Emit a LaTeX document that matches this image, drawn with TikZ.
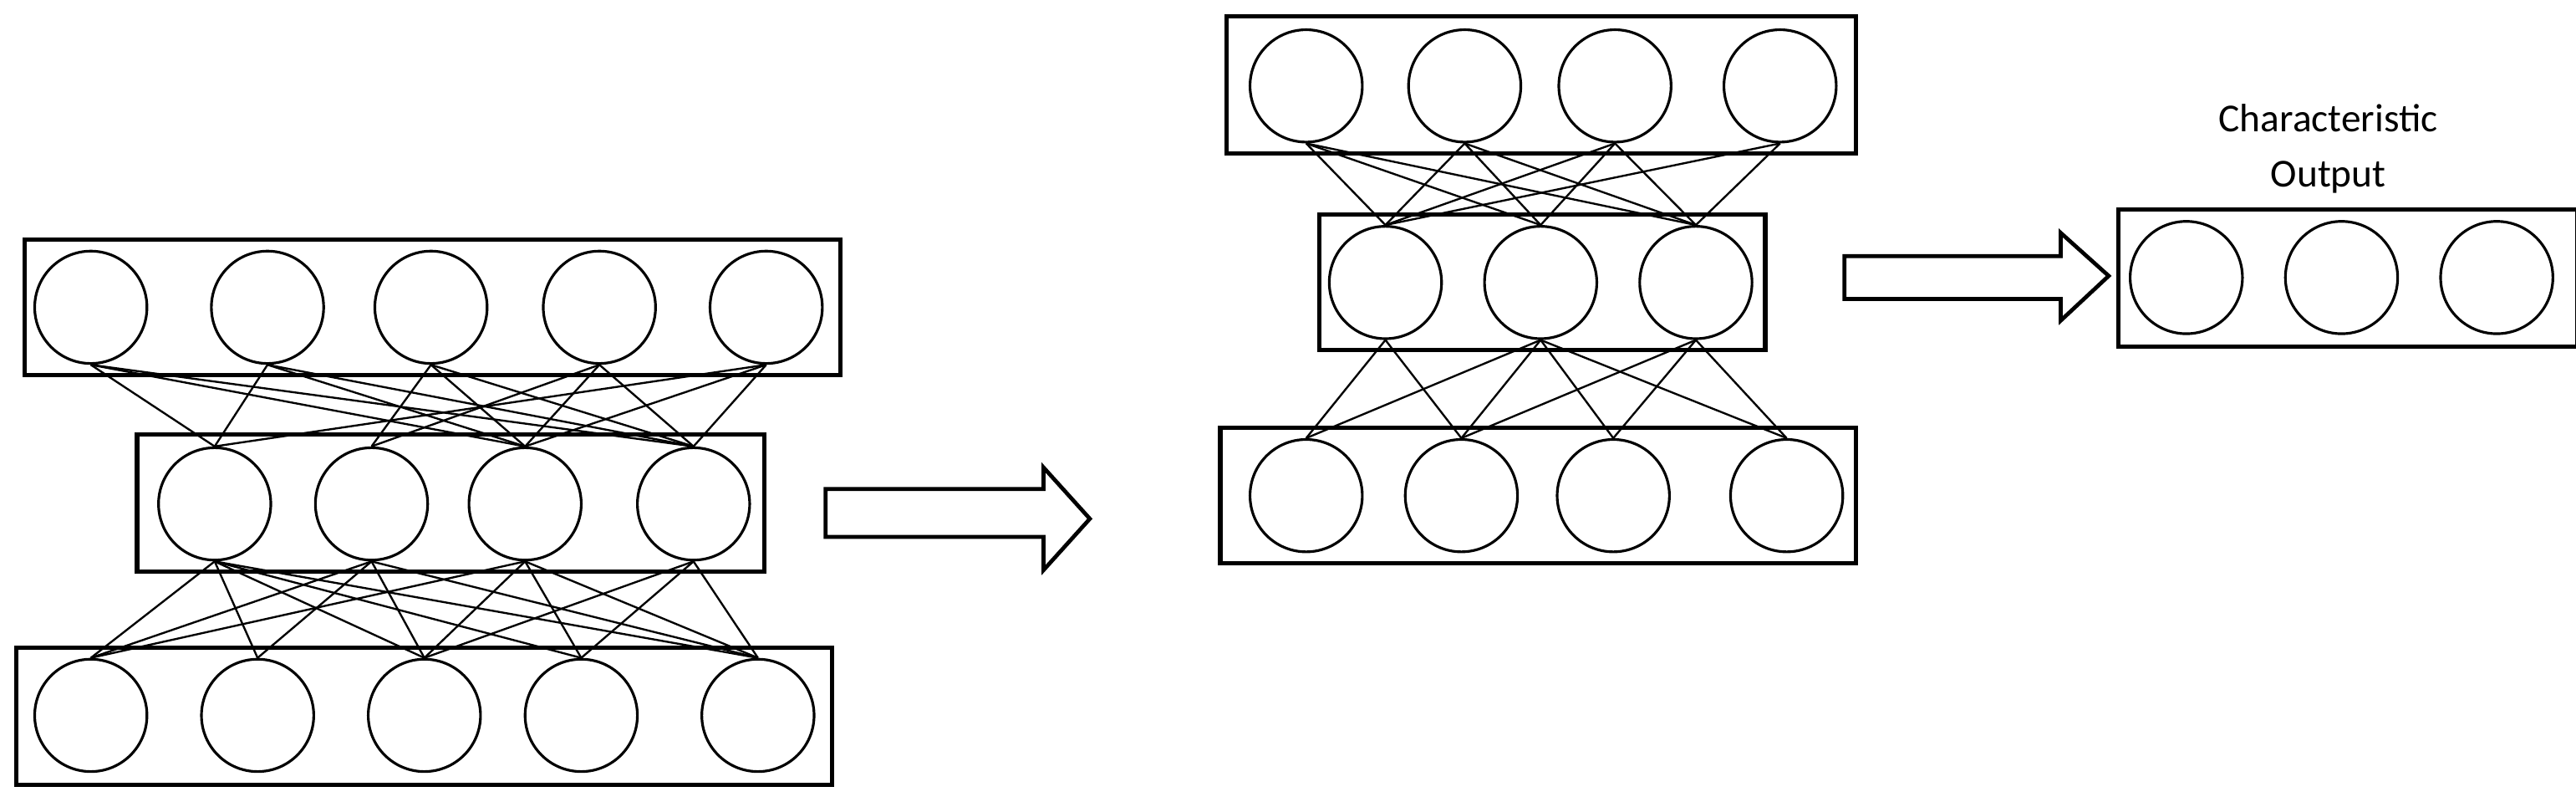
\documentclass[tikz,border=0pt]{standalone}
\usepackage{fontspec}
\setmainfont{Carlito}
\begin{document}
\begin{tikzpicture}[x=0.5pt,y=-0.5pt,
  neuron/.style={circle,draw,line width=0.8pt,minimum size=34pt,inner sep=0pt},
  layerbox/.style={draw,line width=1.3pt},
  edge/.style={line width=0.6pt},
  bigarrow/.style={draw,line width=1.2pt,fill=white}]
\useasboundingbox (0,0) rectangle (1560,485);
% left network
\draw[layerbox] (15,145) rectangle (509,227);
\draw[layerbox] (83,263) rectangle (463,346);
\draw[layerbox] (10,392) rectangle (504,475);
\foreach \x [count=\i] in {55,162,261,363,464} \node[neuron] (t\i) at (\x,186) {};
\foreach \x [count=\i] in {130,225,318,420} \node[neuron] (m\i) at (\x,305) {};
\foreach \x [count=\i] in {55,156,257,352,459} \node[neuron] (b\i) at (\x,433) {};
\foreach \a/\b in {1/1,1/3,1/4,2/1,2/3,2/4,3/2,3/3,3/4,4/2,4/3,4/4,5/1,5/3,5/4}
  \draw[edge] (t\a.south) -- (m\b.north);
\foreach \a/\b in {1/1,1/2,1/3,1/4,1/5,2/1,2/2,2/3,2/5,3/1,3/3,3/4,3/5,4/3,4/4,4/5}
  \draw[edge] (m\a.south) -- (b\b.north);
% arrow 1
\draw[bigarrow] (500,296) -- (632,296) -- (632,283) -- (660,314) -- (632,345) -- (632,325) -- (500,325) -- cycle;
% middle network
\draw[layerbox] (743,10) rectangle (1124,93);
\draw[layerbox] (799,130) rectangle (1069,212);
\draw[layerbox] (739,259) rectangle (1124,341);
\foreach \x [count=\i] in {791,887,978,1078} \node[neuron] (u\i) at (\x,52) {};
\foreach \x [count=\i] in {839,933,1027} \node[neuron] (v\i) at (\x,171) {};
\foreach \x [count=\i] in {791,885,977,1082} \node[neuron] (w\i) at (\x,300) {};
\foreach \a/\b in {1/1,1/2,1/3,2/1,2/2,2/3,3/1,3/2,3/3,4/1,4/3}
  \draw[edge] (u\a.south) -- (v\b.north);
\foreach \a/\b in {1/1,1/2,2/1,2/2,2/3,2/4,3/2,3/3,3/4}
  \draw[edge] (v\a.south) -- (w\b.north);
% arrow 2
\draw[bigarrow] (1117,155) -- (1248,155) -- (1248,141) -- (1277,167) -- (1248,194) -- (1248,181) -- (1117,181) -- cycle;
% output
\draw[layerbox] (1283,127) rectangle (1561,210);
\foreach \x [count=\i] in {1324,1418,1512} \node[neuron] (o\i) at (\x,168) {};
\node[font=\fontsize{12pt}{16.5pt}\selectfont,align=center] (lbl) at (1410,90) {Characteristic\\Output};
\end{tikzpicture}
\end{document}
